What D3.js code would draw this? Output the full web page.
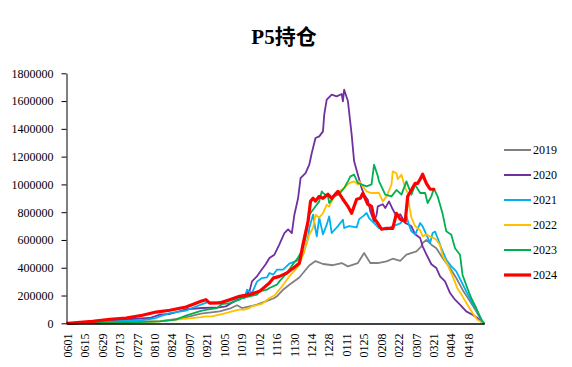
<!DOCTYPE html>
<html><head><meta charset="utf-8">
<script src="https://cdn.jsdelivr.net/npm/d3@7"></script>
<style>body{margin:0;background:#fff}svg{display:block}</style>
</head><body>
<svg id="c" width="572" height="367"></svg>
<script>
const chartTitle = "P5持仓";
const yTicks = [0,200000,400000,600000,800000,1000000,1200000,1400000,1600000,1800000];
const xTickLabels = ["0601","0615","0629","0713","0727","0810","0824","0907","0921","1005","1019","1102","1116","1130","1214","1228","0111","0125","0208","0222","0307","0321","0404","0418"];
const seriesNames = ["2019","2020","2021","2022","2023","2024"];
const seriesColors = ["#808080","#7030A0","#00B0F0","#FFC000","#00B050","#FF0000"];

const s2019 = [["0607",2000],["0615",10000],["0629",15000],["0713",18000],["0727",19000],["0731",14000],["0814",16000],["0822",25000],["0903",40000],["0916",70000],["1001",86000],["1009",105000],["1015",130000],["1019",110000],["1031",134000],["1107",158000],["1114",182000],["1116",194000],["1121",242000],["1126",278000],["1204",330000],["1207",362000],["1212",416000],["1217",448000],["1223",427000],["1231",418000],["0107",434000],["0112",410000],["0120",434000],["0125",506000],["0130",434000],["0205",434000],["0212",446000],["0217",465000],["0223",450000],["0228",494000],["0307",518000],["0311",554000],["0312",578000],["0315",600000],["0319",566000],["0323",540000],["0328",470000],["0403",398000],["0408",326000],["0413",242000],["0419",158000],["0424",86000],["0427",38000],["0430",2000]];

const s2020 = [["0601",0],["0615",7000],["0629",14000],["0718",29000],["0806",38000],["0814",62000],["0822",67000],["0904",101000],["0917",110000],["1001",115000],["1006",122000],["1017",180000],["1021",200000],["1025",230000],["1027",302000],["1031",338000],["1104",389000],["1107",425000],["1110",470000],["1114",494000],["1118",569000],["1122",650000],["1125",677000],["1128",650000],["1130",780000],["1203",900000],["1205",1046000],["1209",1082000],["1212",1142000],["1214",1226000],["1217",1334000],["1220",1346000],["1223",1382000],["1224",1502000],["1226",1610000],["1230",1646000],["0103",1634000],["0107",1651000],["0108",1598000],["0109",1682000],["0112",1600000],["0115",1360000],["0117",1166000],["0120",1070000],["0123",974000],["0125",926000],["0128",890000],["0130",806000],["0202",734000],["0204",780000],["0205",842000],["0209",857000],["0211",830000],["0214",878000],["0217",821000],["0220",770000],["0223",785000],["0227",722000],["0301",710000],["0303",698000],["0306",641000],["0310",614000],["0312",554000],["0315",497000],["0319",425000],["0323",398000],["0326",338000],["0330",302000],["0403",218000],["0407",170000],["0411",134000],["0416",86000],["0421",62000],["0425",38000],["0428",10000],["0430",5000]];

const s2021 = [["0601",0],["0615",3000],["0629",10000],["0713",15000],["0727",20000],["0806",30000],["0811",38000],["0814",50000],["0822",74000],["0904",91000],["0909",110000],["0916",134000],["0921",150000],["0929",153000],["1006",158000],["1017",182000],["1021",182000],["1023",242000],["1027",218000],["1031",300000],["1104",326000],["1108",330000],["1110",362000],["1113",350000],["1116",386000],["1121",386000],["1126",430000],["1202",450000],["1207",494000],["1211",614000],["1212",686000],["1215",782000],["1217",674000],["1218",626000],["1220",760000],["1223",640000],["1226",710000],["1228",770000],["1230",650000],["0104",700000],["0108",746000],["0109",686000],["0113",700000],["0119",690000],["0121",750000],["0124",770000],["0127",794000],["0129",758000],["0202",722000],["0206",686000],["0212",674000],["0217",698000],["0223",720000],["0228",770000],["0301",710000],["0303",662000],["0306",638000],["0310",722000],["0312",698000],["0315",638000],["0318",578000],["0320",650000],["0322",660000],["0324",614000],["0327",542000],["0331",458000],["0404",410000],["0408",374000],["0412",302000],["0416",230000],["0421",146000],["0425",86000],["0429",14000],["0430",3000]];

const s2022 = [["0601",0],["0713",0],["0718",2000],["0814",14000],["0827",26000],["0909",38000],["0916",45000],["0920",50000],["0925",50000],["1006",74000],["1011",86000],["1017",98000],["1021",98000],["1025",110000],["1027",122000],["1104",140000],["1110",182000],["1114",200000],["1118",242000],["1121",278000],["1126",338000],["1202",398000],["1204",422000],["1208",518000],["1212",638000],["1215",686000],["1217",782000],["1220",760000],["1223",794000],["1226",854000],["1228",840000],["0101",914000],["0105",950000],["0109",974000],["0113",1010000],["0117",1022000],["0120",998000],["0121",1022000],["0127",950000],["0131",938000],["0206",938000],["0209",878000],["0212",914000],["0216",998000],["0217",1094000],["0220",1080000],["0221",1037000],["0224",1070000],["0227",974000],["0229",940000],["0301",857000],["0303",760000],["0306",700000],["0310",670000],["0312",626000],["0315",640000],["0319",620000],["0321",614000],["0323",602000],["0326",560000],["0328",490000],["0401",420000],["0405",340000],["0409",250000],["0413",194000],["0417",134000],["0421",74000],["0425",26000],["0430",0]];

const s2023 = [["0601",0],["0629",3000],["0727",8000],["0814",14000],["0827",26000],["0904",55000],["0916",90000],["0921",98000],["0929",110000],["1003",139000],["1009",146000],["1017",170000],["1019",182000],["1025",194000],["1031",206000],["1102",230000],["1108",242000],["1110",254000],["1116",278000],["1118",302000],["1124",362000],["1130",440000],["1202",460000],["1206",518000],["1209",614000],["1212",782000],["1216",830000],["1220",878000],["1222",950000],["1223",938000],["1227",914000],["1228",866000],["0101",914000],["0105",930000],["0109",974000],["0112",1022000],["0114",1058000],["0117",1070000],["0120",1010000],["0127",986000],["0131",1000000],["0202",1142000],["0205",1060000],["0206",1022000],["0211",926000],["0216",914000],["0220",960000],["0224",926000],["0228",1022000],["0303",926000],["0306",998000],["0310",938000],["0314",938000],["0316",866000],["0319",914000],["0321",970000],["0324",914000],["0328",790000],["0331",662000],["0404",638000],["0407",540000],["0411",494000],["0413",350000],["0417",250000],["0420",182000],["0424",110000],["0428",25000],["0430",3000]];

const s2024 = [["0601",0],["0611",7000],["0621",14000],["0705",29000],["0718",38000],["0731",58000],["0811",81000],["0822",94000],["0904",117000],["0912",144000],["0916",158000],["0920",170000],["0923",145000],["1001",146000],["1009",170000],["1017",194000],["1025",206000],["1102",230000],["1110",290000],["1113",325000],["1118",338000],["1124",362000],["1129",396000],["1204",432000],["1207",570000],["1211",734000],["1213",878000],["1215",900000],["1217",880000],["1220",914000],["1223",900000],["1227",929000],["1230",900000],["0104",950000],["0108",893000],["0112",842000],["0115",792000],["0119",893000],["0122",900000],["0124",936000],["0128",857000],["0131",842000],["0202",756000],["0205",720000],["0208",677000],["0212",684000],["0217",684000],["0218",720000],["0220",792000],["0223",749000],["0227",734000],["0229",914000],["0301",929000],["0306",1008000],["0308",1008000],["0310",1037000],["0312",1073000],["0315",1008000],["0318",965000],["0321",965000]];

const seriesData = [s2019, s2020, s2021, s2022, s2023, s2024];

const fmt = d3.timeFormat("%m%d");
const allDays = d3.timeDay.range(new Date(2023,5,1), new Date(2024,4,1)).map(fmt);

const svg = d3.select("#c");
const x = d3.scaleBand().domain(allDays).range([67, 484.3]);
const y = d3.scaleLinear().domain([0, 1800000]).range([323.3, 73.3]);
const px = d => x(d) + x.bandwidth() / 2;

svg.append("text").attr("x", 284).attr("y", 44).attr("text-anchor", "middle")
  .attr("font-family", "'Liberation Serif','Times New Roman','Noto Sans CJK SC',serif")
  .attr("font-weight", "bold").attr("font-size", 21).attr("fill", "#000").text(chartTitle);

const line = d3.line().x(d => px(d[0])).y(d => y(d[1]));
seriesData.forEach((s, i) => {
  svg.append("path").datum(s).attr("d", line).attr("fill", "none")
    .attr("stroke", seriesColors[i]).attr("stroke-width", i === 5 ? 3.2 : 1.8)
    .attr("stroke-linejoin", "round").attr("stroke-linecap", "round");
});

const ya = svg.append("g").attr("transform", "translate(66.5,0)")
  .call(d3.axisLeft(y).tickValues(yTicks).tickSize(5).tickSizeOuter(0).tickPadding(8).tickFormat(d3.format("d")));
ya.select(".domain").attr("stroke", "#000");
ya.selectAll(".tick line").attr("stroke", "#000");
ya.selectAll("text").attr("font-family", "'Liberation Serif','Times New Roman',serif").attr("font-size", 12).attr("fill", "#000");

const xa = svg.append("g").attr("transform", "translate(0,323.5)")
  .call(d3.axisBottom(x).tickValues(xTickLabels).tickSize(0).tickSizeOuter(0));
xa.select(".domain").attr("stroke", "#000").attr("stroke-width", 1.3);
xa.selectAll("text").attr("transform", "rotate(-90)").attr("x", -10).attr("y", 0).attr("dy", "0.35em")
  .style("text-anchor", "end")
  .attr("font-family", "'Liberation Serif','Times New Roman',serif").attr("font-size", 12).attr("fill", "#000");

const lg = svg.append("g");
seriesNames.forEach((n, i) => {
  const yy = 150 + i * 25;
  lg.append("line").attr("x1", 504).attr("x2", 531).attr("y1", yy).attr("y2", yy)
    .attr("stroke", seriesColors[i]).attr("stroke-width", i === 5 ? 3.2 : 2);
  lg.append("text").attr("x", 533).attr("y", yy).attr("dy", "0.35em")
    .attr("font-family", "'Liberation Serif','Times New Roman',serif").attr("font-size", 12).attr("fill", "#000").text(n);
});
</script>
</body></html>
